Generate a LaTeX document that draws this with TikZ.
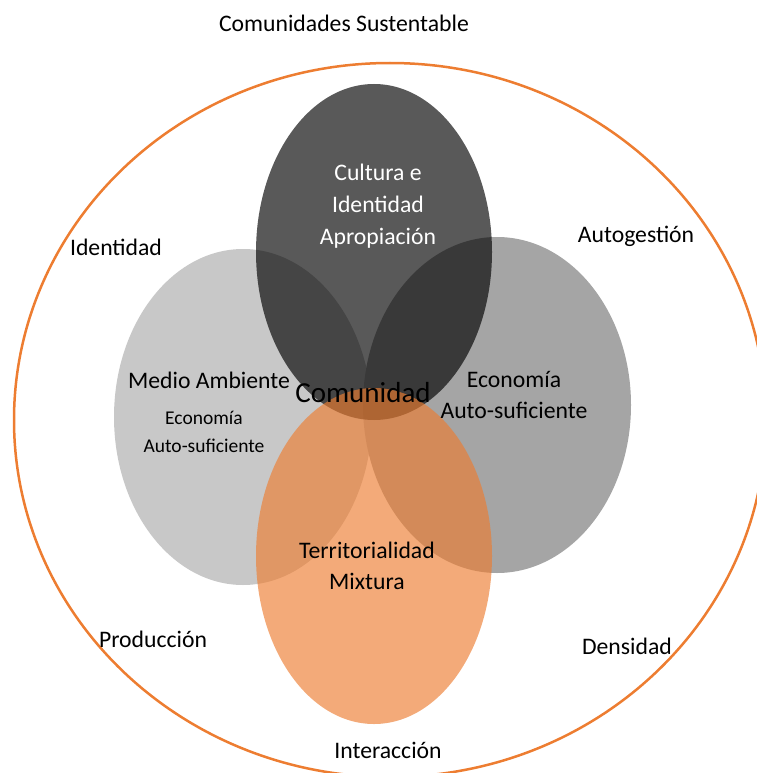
\documentclass[tikz,border=0pt]{standalone}
\usepackage{fontspec}
\setmainfont{Carlito}
\usepackage{xcolor}
\definecolor{ringorange}{HTML}{ED7D31}
\definecolor{darkgrey}{HTML}{595959}
\definecolor{midgrey}{HTML}{A5A5A5}
\definecolor{lightgrey}{HTML}{C8C8C8}
\usepackage{tikz}
\usetikzlibrary{shapes.geometric}
\tikzset{
    ring/.style={
        ellipse, draw=ringorange, line width=2.5pt,
        inner sep=0pt,
        minimum width=752pt,
        minimum height=714pt
    },
    lobe/.style={
        ellipse, draw=none,
        inner sep=0pt,
        minimum width=236pt,
        minimum height=336pt
    },
    lbl/.style={
        font=\fontsize{23.7}{31}\selectfont,
        inner sep=0pt, anchor=base, align=center
    },
    lblsmall/.style={
        lbl,
        font=\fontsize{19.5}{28}\selectfont
    },
    lblbig/.style={
        lbl,
        font=\fontsize{29}{34}\selectfont
    },
}

\begin{document}
\begin{tikzpicture}[x=1pt, y=-1pt]
            \useasboundingbox (0,0) rectangle (756,773);
            % Draw outer ring
            \node[ring] (sust) at (390,420) {};

            % Draw the four lobes
            \node[lobe, fill=lightgrey, minimum width=258pt] (medio) at (243,417) {};
            \node[lobe, fill=midgrey, minimum width=268pt] (econ) at (497,405) {};
            \node[lobe, fill=darkgrey, blend mode=multiply] (cult) at (374,252) {};
            \node[lobe, fill=ringorange, fill opacity=0.65] (terr) at (374,556) {};

            % Ring labels
            \node[lbl] (titulo) at (344,32) {Comunidades Sustentable};
            \node[lbl] (ident) at (116,255) {Identidad};
            \node[lbl] (autog) at (636,242) {Autogestión};
            \node[lbl] (prod) at (153,647) {Producción};
            \node[lbl] (dens) at (627,654) {Densidad};
            \node[lbl] (inter) at (388,758) {Interacción};

            % Lobe labels (base = last line)
            \node[lbl, text=white, font=\fontsize{23.7}{32}\selectfont] (cultTxt) at (378,244) {Cultura e\\Identidad\\Apropiación};
            \node[lbl] (medioTxt) at (209,388) {Medio Ambiente};
            \node[lblsmall] (medioEco) at (204,452) {Economía\\Auto-suficiente};
            \node[lbl] (econTxt) at (514,418) {Economía\\Auto-suficiente};
            \node[lbl] (terrTxt) at (367,589) {Territorialidad\\Mixtura};
            \node[lblbig] (comun) at (363,402) {Comunidad};

        \end{tikzpicture}
\end{document}
